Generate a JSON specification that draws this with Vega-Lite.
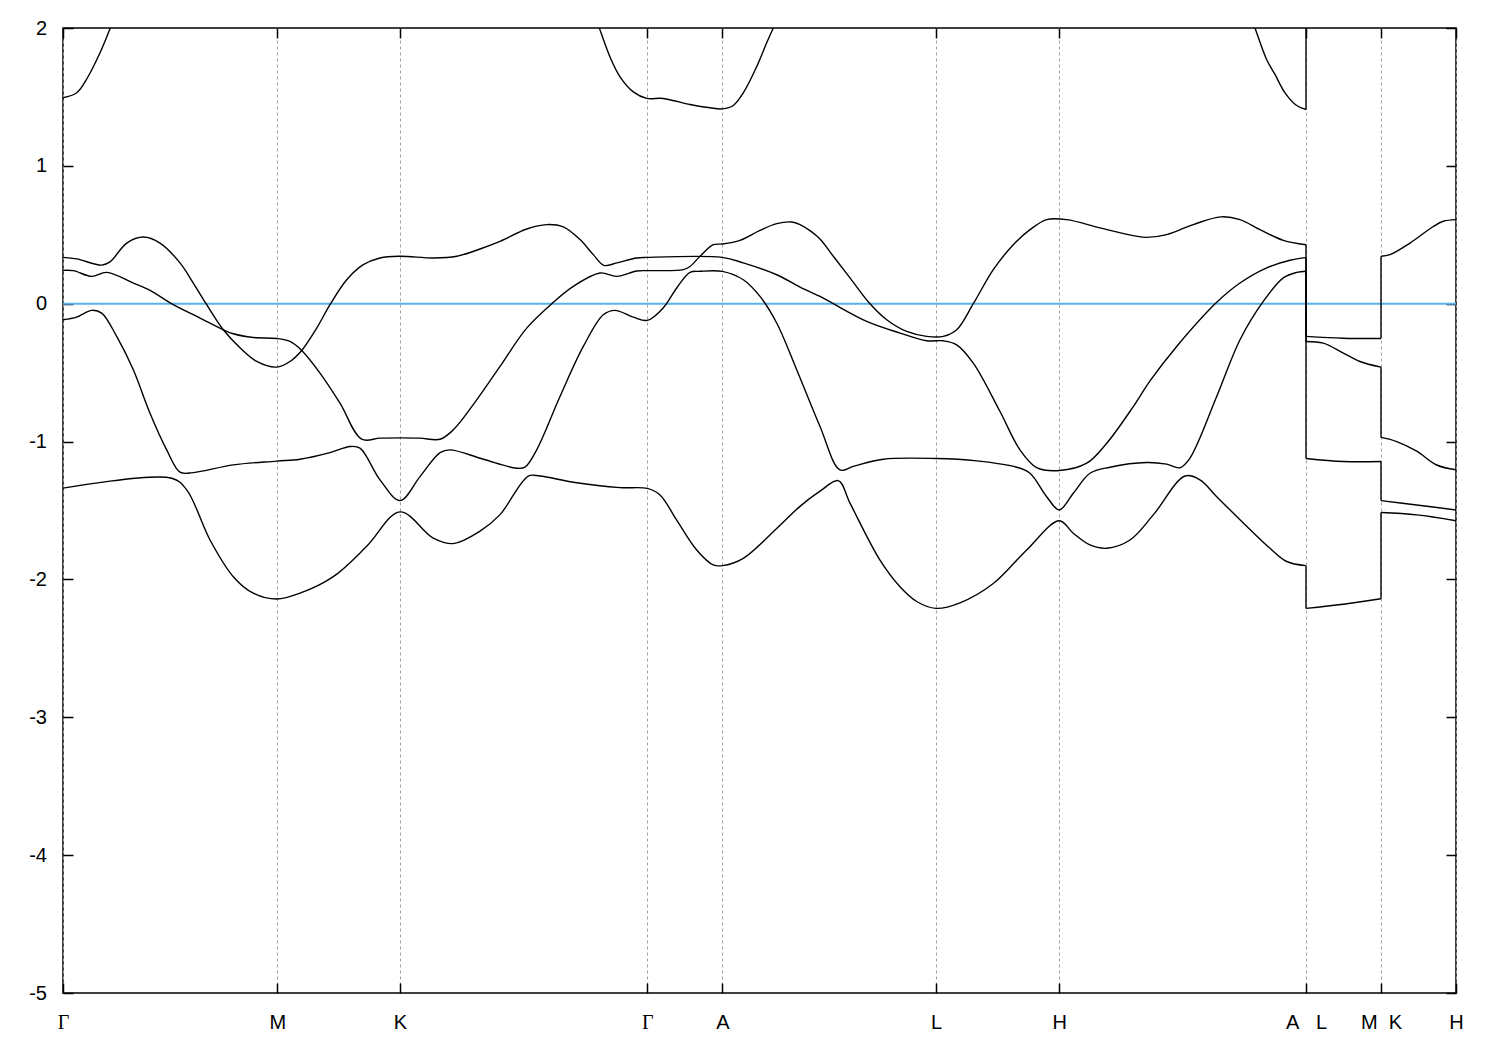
{
  "$schema": "https://vega.github.io/schema/vega-lite/v6.json",
  "width": 1393,
  "height": 965,
  "autosize": "none",
  "padding": {"left": 63, "top": 28, "right": 44, "bottom": 57},
  "background": "white",
  "config": {
    "view": {"stroke": "black", "strokeWidth": 1.5},
    "axis": {"domain": false, "tickColor": "black", "tickWidth": 1.5, "tickSize": -10, "labelColor": "black", "labelFontSize": 20, "labelFont": "Liberation Sans", "title": null, "labelFlush": false, "labelOverlap": false, "labelBound": false}
  },
  "resolve": {"axis": {"x": "independent", "y": "independent"}},
  "datasets": {
    "bands": [
      {"s":"b1a","k":0,"E":-1.338},{"s":"b1a","k":108.7,"E":-1.266},{"s":"b1a","k":123.7,"E":-1.35},{"s":"b1a","k":147,"E":-1.714},{"s":"b1a","k":170.3,"E":-1.98},{"s":"b1a","k":190.3,"E":-2.1},{"s":"b1a","k":213.7,"E":-2.142},{"s":"b1a","k":237,"E":-2.1},{"s":"b1a","k":270.3,"E":-1.98},{"s":"b1a","k":303.7,"E":-1.76},{"s":"b1a","k":337,"E":-1.51},{"s":"b1a","k":370.3,"E":-1.7},{"s":"b1a","k":390.3,"E":-1.74},{"s":"b1a","k":417,"E":-1.65},{"s":"b1a","k":437,"E":-1.53},{"s":"b1a","k":465.3,"E":-1.25},{"s":"b1a","k":477,"E":-1.25},{"s":"b1a","k":510.3,"E":-1.295},{"s":"b1a","k":557,"E":-1.334},{"s":"b1a","k":584.3,"E":-1.34},{"s":"b1a","k":597,"E":-1.387},{"s":"b1a","k":613.7,"E":-1.57},{"s":"b1a","k":633.7,"E":-1.786},{"s":"b1a","k":650.3,"E":-1.895},{"s":"b1a","k":659.3,"E":-1.9},{"s":"b1a","k":680.3,"E":-1.847},{"s":"b1a","k":713.7,"E":-1.63},{"s":"b1a","k":737,"E":-1.47},{"s":"b1a","k":757,"E":-1.36},{"s":"b1a","k":775.3,"E":-1.283},{"s":"b1a","k":787,"E":-1.447},{"s":"b1a","k":817,"E":-1.86},{"s":"b1a","k":837,"E":-2.053},{"s":"b1a","k":853.7,"E":-2.16},{"s":"b1a","k":873,"E":-2.21},{"s":"b1a","k":897,"E":-2.17},{"s":"b1a","k":930.3,"E":-2.03},{"s":"b1a","k":963.7,"E":-1.786},{"s":"b1a","k":996.3,"E":-1.574},{"s":"b1a","k":1010.3,"E":-1.665},{"s":"b1a","k":1027,"E":-1.75},{"s":"b1a","k":1043.7,"E":-1.774},{"s":"b1a","k":1067,"E":-1.714},{"s":"b1a","k":1090.3,"E":-1.532},{"s":"b1a","k":1122,"E":-1.25},{"s":"b1a","k":1137,"E":-1.278},{"s":"b1a","k":1153.7,"E":-1.4},{"s":"b1a","k":1180.3,"E":-1.59},{"s":"b1a","k":1207,"E":-1.774},{"s":"b1a","k":1223.7,"E":-1.87},{"s":"b1a","k":1243,"E":-1.9},
      {"s":"b1b","k":1243,"E":-2.21},{"s":"b1b","k":1280.3,"E":-2.18},{"s":"b1b","k":1318,"E":-2.14},
      {"s":"b1c","k":1318,"E":-1.515},{"s":"b1c","k":1353.7,"E":-1.532},{"s":"b1c","k":1393,"E":-1.574},
      {"s":"b2a","k":0,"E":-0.116},{"s":"b2a","k":13.7,"E":-0.097},{"s":"b2a","k":28.7,"E":-0.048},{"s":"b2a","k":38.7,"E":-0.068},{"s":"b2a","k":53.7,"E":-0.237},{"s":"b2a","k":70.3,"E":-0.479},{"s":"b2a","k":87,"E":-0.794},{"s":"b2a","k":103.7,"E":-1.06},{"s":"b2a","k":117,"E":-1.222},{"s":"b2a","k":130.3,"E":-1.225},{"s":"b2a","k":170.3,"E":-1.169},{"s":"b2a","k":213.7,"E":-1.142},{"s":"b2a","k":237,"E":-1.128},{"s":"b2a","k":267,"E":-1.08},{"s":"b2a","k":287,"E":-1.036},{"s":"b2a","k":297,"E":-1.048},{"s":"b2a","k":317,"E":-1.278},{"s":"b2a","k":337,"E":-1.428},{"s":"b2a","k":357,"E":-1.254},{"s":"b2a","k":377,"E":-1.08},{"s":"b2a","k":387,"E":-1.06},{"s":"b2a","k":420.3,"E":-1.128},{"s":"b2a","k":453.7,"E":-1.193},{"s":"b2a","k":462,"E":-1.186},{"s":"b2a","k":473.7,"E":-1.06},{"s":"b2a","k":497,"E":-0.673},{"s":"b2a","k":520.3,"E":-0.31},{"s":"b2a","k":540.3,"E":-0.08},{"s":"b2a","k":552,"E":-0.048},{"s":"b2a","k":570.3,"E":-0.097},{"s":"b2a","k":584.3,"E":-0.121},{"s":"b2a","k":600.3,"E":-0.03},{"s":"b2a","k":613.7,"E":0.114},{"s":"b2a","k":627,"E":0.227},{"s":"b2a","k":637,"E":0.235},{"s":"b2a","k":659.3,"E":0.235},{"s":"b2a","k":680.3,"E":0.174},{"s":"b2a","k":697,"E":0.053},{"s":"b2a","k":713.7,"E":-0.14},{"s":"b2a","k":733.7,"E":-0.479},{"s":"b2a","k":757,"E":-0.89},{"s":"b2a","k":777,"E":-1.206},{"s":"b2a","k":790.3,"E":-1.18},{"s":"b2a","k":820.3,"E":-1.128},{"s":"b2a","k":873,"E":-1.123},{"s":"b2a","k":913.7,"E":-1.14},{"s":"b2a","k":953.7,"E":-1.186},{"s":"b2a","k":967,"E":-1.23},{"s":"b2a","k":983.7,"E":-1.4},{"s":"b2a","k":996.3,"E":-1.496},{"s":"b2a","k":1010.3,"E":-1.375},{"s":"b2a","k":1027,"E":-1.23},{"s":"b2a","k":1047,"E":-1.186},{"s":"b2a","k":1083.7,"E":-1.152},{"s":"b2a","k":1103.7,"E":-1.164},{"s":"b2a","k":1117,"E":-1.19},{"s":"b2a","k":1127,"E":-1.12},{"s":"b2a","k":1153.7,"E":-0.673},{"s":"b2a","k":1177,"E":-0.261},{"s":"b2a","k":1200.3,"E":0.017},{"s":"b2a","k":1220.3,"E":0.187},{"s":"b2a","k":1233.7,"E":0.227},{"s":"b2a","k":1243,"E":0.235},
      {"s":"b2b","k":1243,"E":-1.123},{"s":"b2b","k":1280.3,"E":-1.145},{"s":"b2b","k":1318,"E":-1.145},
      {"s":"b2c","k":1318,"E":-1.428},{"s":"b2c","k":1353.7,"E":-1.46},{"s":"b2c","k":1393,"E":-1.496},
      {"s":"pa","k":0,"E":0.336},{"s":"pa","k":13.7,"E":0.325},{"s":"pa","k":38.7,"E":0.28},{"s":"pa","k":47,"E":0.303},{"s":"pa","k":63.7,"E":0.44},{"s":"pa","k":80.3,"E":0.484},{"s":"pa","k":97,"E":0.44},{"s":"pa","k":117,"E":0.296},{"s":"pa","k":130.3,"E":0.15},{"s":"pa","k":143.7,"E":-0.007},{"s":"pa","k":160.3,"E":-0.189},{"s":"pa","k":177,"E":-0.32},{"s":"pa","k":193.7,"E":-0.419},{"s":"pa","k":213.7,"E":-0.46},{"s":"pa","k":227,"E":-0.419},{"s":"pa","k":238.7,"E":-0.339},{"s":"pa","k":253.7,"E":-0.177},{"s":"pa","k":267,"E":-0.007},{"s":"pa","k":283.7,"E":0.174},{"s":"pa","k":300.3,"E":0.283},{"s":"pa","k":317,"E":0.332},{"s":"pa","k":337,"E":0.344},{"s":"pa","k":370.3,"E":0.332},{"s":"pa","k":393.7,"E":0.344},{"s":"pa","k":417,"E":0.397},{"s":"pa","k":437,"E":0.452},{"s":"pa","k":463.7,"E":0.542},{"s":"pa","k":483.7,"E":0.574},{"s":"pa","k":500.3,"E":0.557},{"s":"pa","k":517,"E":0.465},{"s":"pa","k":530.3,"E":0.356},{"s":"pa","k":541,"E":0.278},{"s":"pa","k":553.7,"E":0.296},{"s":"pa","k":573.7,"E":0.332},{"s":"pa","k":584.3,"E":0.336},{"s":"pa","k":659.3,"E":0.336},{"s":"pa","k":680.3,"E":0.296},{"s":"pa","k":713.7,"E":0.21},{"s":"pa","k":737,"E":0.121},{"s":"pa","k":757,"E":0.053},{"s":"pa","k":770.3,"E":0},{"s":"pa","k":803.7,"E":-0.128},{"s":"pa","k":837,"E":-0.213},{"s":"pa","k":863.7,"E":-0.269},{"s":"pa","k":880.3,"E":-0.269},{"s":"pa","k":893.7,"E":-0.298},{"s":"pa","k":910.3,"E":-0.431},{"s":"pa","k":937,"E":-0.782},{"s":"pa","k":957,"E":-1.06},{"s":"pa","k":973.7,"E":-1.189},{"s":"pa","k":996.3,"E":-1.21},{"s":"pa","k":1023.7,"E":-1.157},{"s":"pa","k":1043.7,"E":-1.012},{"s":"pa","k":1070.3,"E":-0.746},{"s":"pa","k":1087,"E":-0.56},{"s":"pa","k":1113.7,"E":-0.31},{"s":"pa","k":1153.7,"E":0.01},{"s":"pa","k":1177,"E":0.15},{"s":"pa","k":1203.7,"E":0.26},{"s":"pa","k":1227,"E":0.315},{"s":"pa","k":1243,"E":0.334},
      {"s":"pb","k":1243,"E":-0.274},{"s":"pb","k":1260.3,"E":-0.286},{"s":"pb","k":1280.3,"E":-0.358},{"s":"pb","k":1297,"E":-0.419},{"s":"pb","k":1318,"E":-0.46},
      {"s":"pc","k":1318,"E":-0.97},{"s":"pc","k":1333.7,"E":-1.0},{"s":"pc","k":1353.7,"E":-1.07},{"s":"pc","k":1373.7,"E":-1.17},{"s":"pc","k":1393,"E":-1.205},
      {"s":"qa","k":0,"E":0.242},{"s":"qa","k":10.3,"E":0.24},{"s":"qa","k":28.7,"E":0.198},{"s":"qa","k":43.7,"E":0.227},{"s":"qa","k":70.3,"E":0.15},{"s":"qa","k":87,"E":0.097},{"s":"qa","k":110.3,"E":-0.007},{"s":"qa","k":137,"E":-0.104},{"s":"qa","k":160.3,"E":-0.189},{"s":"qa","k":170.3,"E":-0.218},{"s":"qa","k":190.3,"E":-0.245},{"s":"qa","k":213.7,"E":-0.252},{"s":"qa","k":227,"E":-0.274},{"s":"qa","k":238.7,"E":-0.339},{"s":"qa","k":257,"E":-0.503},{"s":"qa","k":277,"E":-0.721},{"s":"qa","k":298.7,"E":-0.983},{"s":"qa","k":317,"E":-0.975},{"s":"qa","k":337,"E":-0.973},{"s":"qa","k":357,"E":-0.975},{"s":"qa","k":377,"E":-0.983},{"s":"qa","k":390.3,"E":-0.915},{"s":"qa","k":413.7,"E":-0.697},{"s":"qa","k":437,"E":-0.455},{"s":"qa","k":463.7,"E":-0.177},{"s":"qa","k":490.3,"E":0.01},{"s":"qa","k":510.3,"E":0.126},{"s":"qa","k":537,"E":0.223},{"s":"qa","k":553.7,"E":0.198},{"s":"qa","k":573.7,"E":0.237},{"s":"qa","k":584.3,"E":0.24},{"s":"qa","k":620.3,"E":0.247},{"s":"qa","k":627,"E":0.27},{"s":"qa","k":637,"E":0.344},{"s":"qa","k":650.3,"E":0.428},{"s":"qa","k":659.3,"E":0.433},{"s":"qa","k":677,"E":0.46},{"s":"qa","k":697,"E":0.532},{"s":"qa","k":713.7,"E":0.581},{"s":"qa","k":728.7,"E":0.593},{"s":"qa","k":737,"E":0.574},{"s":"qa","k":747,"E":0.53},{"s":"qa","k":757,"E":0.47},{"s":"qa","k":770.3,"E":0.344},{"s":"qa","k":787,"E":0.187},{"s":"qa","k":807,"E":0},{"s":"qa","k":823.7,"E":-0.116},{"s":"qa","k":843.7,"E":-0.201},{"s":"qa","k":863.7,"E":-0.237},{"s":"qa","k":880.3,"E":-0.237},{"s":"qa","k":893.7,"E":-0.189},{"s":"qa","k":910.3,"E":0},{"s":"qa","k":930.3,"E":0.247},{"s":"qa","k":950.3,"E":0.428},{"s":"qa","k":967,"E":0.537},{"s":"qa","k":983.7,"E":0.61},{"s":"qa","k":1003.7,"E":0.61},{"s":"qa","k":1037,"E":0.55},{"s":"qa","k":1070.3,"E":0.494},{"s":"qa","k":1083.7,"E":0.481},{"s":"qa","k":1103.7,"E":0.501},{"s":"qa","k":1130.3,"E":0.574},{"s":"qa","k":1158,"E":0.63},{"s":"qa","k":1177,"E":0.61},{"s":"qa","k":1197,"E":0.537},{"s":"qa","k":1220.3,"E":0.46},{"s":"qa","k":1243,"E":0.428},
      {"s":"qb","k":1243,"E":-0.237},{"s":"qb","k":1280.3,"E":-0.25},{"s":"qb","k":1318,"E":-0.252},
      {"s":"qc","k":1318,"E":0.344},{"s":"qc","k":1327,"E":0.356},{"s":"qc","k":1347,"E":0.44},{"s":"qc","k":1370.3,"E":0.56},{"s":"qc","k":1380.3,"E":0.598},{"s":"qc","k":1393,"E":0.61},
      {"s":"b5a","k":0,"E":1.494},{"s":"b5a","k":13.7,"E":1.53},{"s":"b5a","k":25.3,"E":1.65},{"s":"b5a","k":37,"E":1.82},{"s":"b5a","k":47,"E":1.994},{"s":"b5a","k":53,"E":2.1},{"s":"b5a","k":214,"E":2.8},{"s":"b5a","k":337,"E":2.9},{"s":"b5a","k":531,"E":2.1},{"s":"b5a","k":536.3,"E":2.0},{"s":"b5a","k":547,"E":1.79},{"s":"b5a","k":557,"E":1.646},{"s":"b5a","k":570.3,"E":1.537},{"s":"b5a","k":583.7,"E":1.49},{"s":"b5a","k":600.3,"E":1.489},{"s":"b5a","k":627,"E":1.445},{"s":"b5a","k":647,"E":1.421},{"s":"b5a","k":659.3,"E":1.413},{"s":"b5a","k":670.3,"E":1.438},{"s":"b5a","k":680.3,"E":1.53},{"s":"b5a","k":693.7,"E":1.72},{"s":"b5a","k":703.7,"E":1.893},{"s":"b5a","k":710.3,"E":2.0},{"s":"b5a","k":717,"E":2.1},{"s":"b5a","k":873,"E":2.8},{"s":"b5a","k":996.3,"E":2.9},{"s":"b5a","k":1187,"E":2.1},{"s":"b5a","k":1192,"E":2.0},{"s":"b5a","k":1203.7,"E":1.77},{"s":"b5a","k":1212,"E":1.663},{"s":"b5a","k":1222,"E":1.53},{"s":"b5a","k":1233.7,"E":1.438},{"s":"b5a","k":1243,"E":1.409},
      {"s":"b5b","k":1243,"E":2.8},{"s":"b5b","k":1318,"E":2.8},
      {"s":"b5c","k":1318,"E":2.8},{"s":"b5c","k":1393,"E":2.9}
    ],
    "jumps": [
      {"k":1243,"E":-1.9,"E2":-2.21},{"k":1318,"E":-2.14,"E2":-1.515},
      {"k":1243,"E":0.235,"E2":-1.123},{"k":1318,"E":-1.145,"E2":-1.428},
      {"k":1243,"E":0.334,"E2":-0.274},{"k":1318,"E":-0.46,"E2":-0.97},
      {"k":1243,"E":0.428,"E2":-0.237},{"k":1318,"E":-0.252,"E2":0.344},
      {"k":1243,"E":1.409,"E2":2.8}
    ],
    "fermi": [{"E": 0}]
  },
  "layer": [
    {
      "data": {"name": "fermi"},
      "mark": {"type": "rule", "color": "#56B4E9", "strokeWidth": 2},
      "encoding": {
        "y": {"field": "E", "type": "quantitative", "scale": {"domain": [-5, 2], "nice": false, "zero": false}, "axis": null}
      }
    },
    {
      "data": {"name": "bands"},
      "mark": {"type": "line", "color": "black", "strokeWidth": 1.4, "clip": true, "interpolate": "catmull-rom"},
      "encoding": {
        "x": {"field": "k", "type": "quantitative", "scale": {"domain": [0, 1393], "nice": false, "zero": false},
          "axis": {"orient": "bottom", "values": [0, 214.3, 337, 584.3, 659.3, 873, 996.3, 1243, 1318, 1393],
            "grid": true, "gridColor": "#a0a0a0", "gridDash": [3, 3], "gridWidth": 1,
            "labelPadding": 29, "labelBaseline": "top", "labelAlign": "center",
            "labelFont": {"condition": {"test": "datum.value < 100 || (datum.value > 500 && datum.value < 620)", "value": "Liberation Serif"}, "value": "Liberation Sans"},
            "labelExpr": "datum.value < 100 ? 'Γ' : datum.value < 300 ? 'M' : datum.value < 450 ? 'K' : datum.value < 620 ? 'Γ' : datum.value < 700 ? 'A' : datum.value < 900 ? 'L' : datum.value < 1100 ? 'H' : datum.value < 1280 ? 'A\u00a0\u00a0\u00a0L' : datum.value < 1350 ? 'M\u00a0\u00a0K' : 'H'"}},
        "y": {"field": "E", "type": "quantitative", "scale": {"domain": [-5, 2], "nice": false, "zero": false},
          "axis": {"orient": "left", "values": [-5, -4, -3, -2, -1, 0, 1, 2], "grid": false, "labelPadding": 26.5, "labelExpr": "'' + datum.value"}},
        "detail": {"field": "s"},
        "order": {"value": null}
      }
    },
    {
      "data": {"name": "jumps"},
      "mark": {"type": "rule", "color": "black", "strokeWidth": 1.4, "clip": true},
      "encoding": {
        "x": {"field": "k", "type": "quantitative", "axis": null},
        "y": {"field": "E", "type": "quantitative", "axis": null},
        "y2": {"field": "E2"}
      }
    },
    {
      "data": {"name": "bands"},
      "mark": {"type": "point", "opacity": 0},
      "encoding": {
        "x": {"field": "k", "type": "quantitative", "axis": {"orient": "top", "values": [0, 214.3, 337, 584.3, 659.3, 873, 996.3, 1243, 1318, 1393], "labels": false, "grid": false}},
        "y": {"field": "E", "type": "quantitative", "axis": {"orient": "right", "values": [-5, -4, -3, -2, -1, 0, 1, 2], "labels": false, "grid": false}}
      }
    }
  ]
}
